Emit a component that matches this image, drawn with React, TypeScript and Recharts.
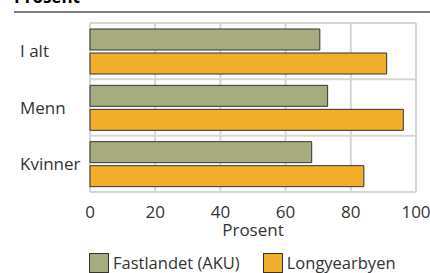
import React from 'react';
import { BarChart, Bar, XAxis, YAxis, CartesianGrid, Legend } from 'recharts';

const categories = ['I alt', 'Menn', 'Kvinner'];
const fastlandet = [70.5, 72.9, 68.0];
const longyearbyen = [91.0, 96.1, 84.0];
const xTicks = [0, 20, 40, 60, 80, 100];

const data = categories.map((name, i) => ({
  name,
  fastlandet: fastlandet[i],
  longyearbyen: longyearbyen[i],
}));

const GREEN = '#a6ab80';
const ORANGE = '#f0ae2a';
const FONT = "'Open Sans', sans-serif";

const YTick = (props: any) => {
  const { y, payload } = props;
  return (
    <text x={20} y={y} dy={6} textAnchor="start" fontSize={17} fill="#333" fontFamily={FONT}>
      {payload.value}
    </text>
  );
};

const legendItems = [
  { label: 'Fastlandet (AKU)', color: GREEN },
  { label: 'Longyearbyen', color: ORANGE },
];

const LegendContent = () => (
  <div
    style={{
      display: 'flex',
      paddingLeft: 89,
      paddingTop: 19,
      fontFamily: FONT,
      fontSize: 16.5,
      color: '#333',
      whiteSpace: 'nowrap',
      lineHeight: '20px',
    }}
  >
    {legendItems.map((it) => (
      <div key={it.label} style={{ display: 'flex', alignItems: 'center', marginRight: 23 }}>
        <span
          style={{
            display: 'inline-block',
            width: 18,
            height: 18,
            background: it.color,
            border: '1px solid #333',
            marginRight: 4,
          }}
        />
        <span>{it.label}</span>
      </div>
    ))}
  </div>
);

export default function App() {
  return (
    <div style={{ position: 'absolute', left: 0, top: 0, width: 430, height: 273 }}>
      <svg width={430} height={273} style={{ position: 'absolute', left: 0, top: 0 }}>
        <text x={14} y={3} fontSize={17} fontWeight="bold" fill="#000" fontFamily={FONT}>
          Prosent
        </text>
        <line x1={14} x2={430} y1={12} y2={12} stroke="#000" strokeWidth={1} />
      </svg>
      <BarChart
        width={430}
        height={273}
        data={data}
        layout="vertical"
        margin={{ top: 23, right: 14, left: 0, bottom: 0 }}
        barGap={3}
        barCategoryGap={6}
        style={{ position: 'absolute', left: 0, top: 0 }}
      >
        <CartesianGrid
          stroke="#d6d6d6"
          strokeWidth={2}
          horizontalCoordinatesGenerator={({ offset }: any) =>
            categories
              .map((_, i) => offset.top + (offset.height * i) / categories.length)
              .concat(offset.top + offset.height)
          }
          verticalCoordinatesGenerator={({ offset }: any) =>
            xTicks.map((t) => offset.left + (offset.width * t) / 100)
          }
        />
        <XAxis
          type="number"
          domain={[0, 100]}
          ticks={xTicks}
          axisLine={false}
          tickLine={false}
          tickMargin={8}
          tick={{ fontSize: 17, fill: '#333', fontFamily: FONT }}
          height={42}
          label={{ value: 'Prosent', position: 'insideBottom', offset: -2, fontSize: 17, fill: '#333', fontFamily: FONT }}
        />
        <YAxis type="category" dataKey="name" width={90} axisLine={false} tickLine={false} tick={<YTick />} />
        <Legend verticalAlign="bottom" height={39} content={<LegendContent />} />
        <Bar dataKey="fastlandet" fill={GREEN} stroke="#333" strokeWidth={1} isAnimationActive={false} />
        <Bar dataKey="longyearbyen" fill={ORANGE} stroke="#333" strokeWidth={1} isAnimationActive={false} />
      </BarChart>
    </div>
  );
}
